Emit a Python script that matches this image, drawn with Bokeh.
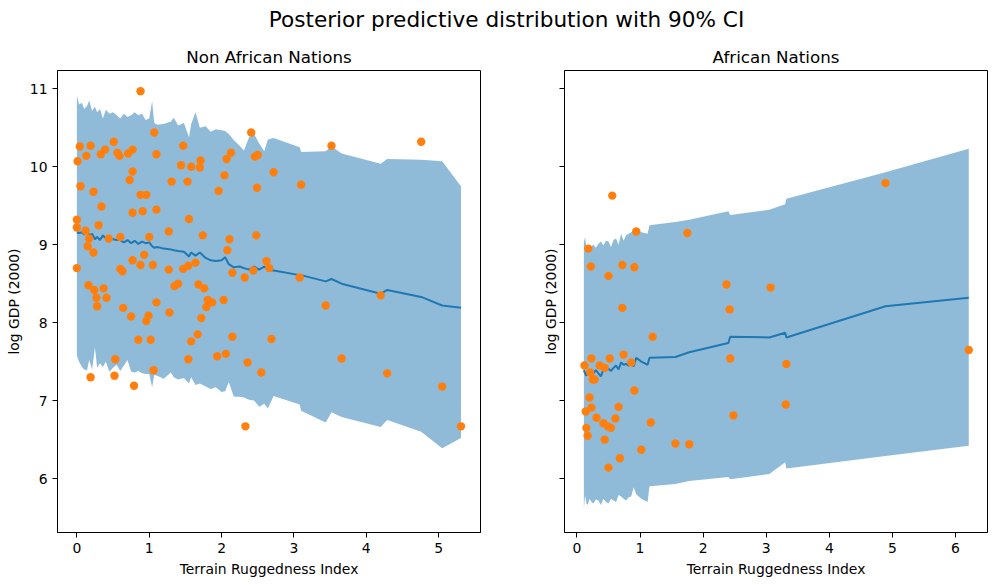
from bokeh.plotting import figure
from bokeh.models import Range1d, FixedTicker, Label
from bokeh.layouts import column, row
from bokeh.embed import file_html
from bokeh.resources import INLINE

# ---------------- data: Non African Nations ----------------
non_af_x = [0.88, 0.04, 0.19, 0.13, 0.01, 0.33, 0.39, 0.51, 0.56, 0.59, 0.71, 0.77, 1.07, 1.10,
            0.77, 0.73, 0.05, 0.23, 0.34, 0.88, 0.96, 0.77, 0.91, 1.10, 0.00, 0.00, 0.12, 0.30,
            0.17, 0.44, 0.60, 1.00, 0.15, 0.23, 1.27, 1.47, 1.44, 1.58, 1.71, 1.70, 1.31, 1.53,
            1.55, 1.74, 1.96, 2.04, 2.07, 2.13, 2.41, 2.46, 2.50, 2.72, 2.49, 2.11, 2.48, 2.08,
            0.93, 0.77, 0.88, 1.05, 0.00, 0.60, 0.63, 1.27, 1.47, 1.54, 1.64, 2.62, 2.66, 2.44,
            2.15, 2.32, 0.16, 0.24, 0.37, 0.27, 0.41, 0.28, 0.64, 0.75, 0.99, 0.96, 1.10, 1.28,
            1.35, 1.40, 1.68, 1.76, 1.81, 1.79, 1.87, 2.03, 1.72, 0.85, 1.02, 1.67, 1.58, 2.15,
            2.69, 0.53, 0.19, 0.52, 0.79, 1.06, 1.54, 1.94, 2.06, 2.36, 2.55, 2.33, 3.52, 4.76,
            3.10, 3.08, 3.44, 4.20, 3.66, 4.29, 5.05, 5.31]
non_af_y = [10.97, 10.26, 10.27, 10.14, 10.07, 10.16, 10.22, 10.32, 10.18, 10.14, 10.17, 10.22, 10.44, 10.16,
            9.94, 9.83, 9.75, 9.68, 9.49, 9.64, 9.64, 9.41, 9.43, 9.45, 9.32, 9.22, 9.18, 9.25,
            9.08, 9.08, 9.10, 9.10, 8.98, 8.90, 9.17, 10.27, 10.02, 10.00, 10.08, 9.99, 9.81, 9.81,
            9.33, 9.12, 9.69, 9.89, 10.10, 10.18, 10.44, 10.13, 10.15, 9.93, 9.73, 9.07, 9.12, 8.93,
            8.87, 8.80, 8.74, 8.74, 8.70, 8.69, 8.66, 8.68, 8.69, 8.73, 8.77, 8.79, 8.70, 8.67,
            8.64, 8.58, 8.48, 8.42, 8.44, 8.32, 8.32, 8.21, 8.19, 8.08, 8.09, 8.02, 8.26, 8.13,
            8.47, 8.50, 8.49, 8.44, 8.29, 8.20, 8.26, 8.29, 8.06, 7.78, 7.78, 7.85, 7.76, 7.82,
            7.79, 7.53, 7.30, 7.32, 7.19, 7.39, 7.53, 7.57, 7.60, 7.49, 7.36, 6.67, 10.27, 10.32,
            9.77, 8.58, 8.22, 8.35, 7.54, 7.35, 7.18, 6.67]

non_af_band_x = [0.00, 0.03, 0.07, 0.10, 0.14, 0.17, 0.21, 0.25, 0.28, 0.32, 0.36, 0.40, 0.45, 0.50,
                 0.55, 0.60, 0.65, 0.70, 0.75, 0.80, 0.85, 0.90, 0.95, 1.00, 1.04, 1.07, 1.11, 1.20,
                 1.30, 1.34, 1.40, 1.48, 1.55, 1.58, 1.64, 1.70, 1.78, 1.85, 1.92, 2.00, 2.05, 2.10,
                 2.17, 2.25, 2.31, 2.38, 2.45, 2.52, 2.59, 2.64, 2.72, 3.08, 3.10, 3.44, 3.52, 3.66,
                 4.20, 4.29, 4.76, 5.05, 5.31]
non_af_upper = [10.91, 10.80, 10.82, 10.74, 10.78, 10.85, 10.72, 10.77, 10.70, 10.74, 10.62, 10.73, 10.68, 10.70,
                10.66, 10.62, 10.68, 10.64, 10.66, 10.70, 10.66, 10.68, 10.60, 10.62, 10.84, 10.56, 10.54, 10.55,
                10.58, 10.63, 10.53, 10.56, 10.38, 10.55, 10.70, 10.50, 10.52, 10.45, 10.48, 10.47, 10.46, 10.42,
                10.34, 10.27, 10.21, 10.38, 10.42, 10.30, 10.20, 10.35, 10.37, 10.25, 10.19, 10.20, 10.26, 10.17,
                10.04, 10.10, 10.09, 10.07, 9.75]
non_af_lower = [7.58, 7.50, 7.43, 7.40, 7.39, 7.52, 7.40, 7.68, 7.42, 7.48, 7.43, 7.50, 7.37, 7.42,
                7.46, 7.38, 7.45, 7.52, 7.37, 7.36, 7.38, 7.35, 7.34, 7.34, 7.17, 7.33, 7.32, 7.28,
                7.36, 7.30, 7.27, 7.29, 7.22, 7.30, 7.20, 7.22, 7.18, 7.15, 7.17, 7.11, 7.12, 7.24,
                7.05, 7.05, 7.04, 7.01, 7.00, 6.92, 6.96, 6.90, 7.06, 6.95, 6.87, 6.72, 6.85, 6.79,
                6.66, 6.75, 6.60, 6.39, 6.52]
non_af_mean = [9.16, 9.15, 9.16, 9.13, 9.18, 9.12, 9.14, 9.07, 9.10, 9.06, 9.12, 9.08, 9.07, 9.07,
               9.06, 9.06, 9.03, 9.06, 9.02, 9.05, 9.01, 9.04, 9.02, 9.03, 8.98, 8.96, 8.97, 8.95,
               8.94, 8.93, 8.92, 8.91, 8.85, 8.90, 8.86, 8.90, 8.83, 8.80, 8.79, 8.80, 8.84, 8.75,
               8.71, 8.72, 8.70, 8.68, 8.72, 8.68, 8.72, 8.68, 8.67, 8.61, 8.61, 8.53, 8.56, 8.50,
               8.37, 8.42, 8.33, 8.22, 8.19]

# ---------------- data: African Nations ----------------
af_x = [0.56, 0.94, 1.75, 0.18, 0.22, 0.72, 0.91, 0.50, 2.37, 3.07, 0.72, 2.42, 1.20, 4.89,
        0.23, 0.52, 0.74, 0.12, 0.36, 0.44, 0.86, 0.21, 0.25, 0.28, 2.43, 0.91, 0.20, 0.14,
        0.23, 0.66, 0.31, 0.61, 0.42, 0.49, 0.54, 1.17, 2.48, 0.15, 0.17, 0.44, 1.02, 1.56,
        1.78, 0.68, 0.50, 3.32, 3.31, 6.21]
af_y = [9.63, 9.17, 9.15, 8.95, 8.72, 8.74, 8.71, 8.60, 8.49, 8.45, 8.19, 8.17, 7.82, 9.79,
        7.54, 7.54, 7.59, 7.45, 7.45, 7.42, 7.49, 7.36, 7.27, 7.27, 7.54, 7.13, 7.04, 6.86,
        6.91, 6.92, 6.78, 6.77, 6.71, 6.67, 6.65, 6.72, 6.81, 6.65, 6.55, 6.50, 6.37, 6.45,
        6.44, 6.26, 6.14, 7.47, 6.95, 7.65]

af_band_x = [0.11, 0.13, 0.15, 0.17, 0.20, 0.23, 0.26, 0.30, 0.34, 0.38, 0.42, 0.46, 0.50, 0.54,
             0.58, 0.62, 0.66, 0.70, 0.74, 0.78, 0.82, 0.86, 0.90, 0.94, 1.02, 1.12, 1.15, 1.56,
             1.78, 2.40, 2.43, 3.05, 3.30, 3.32, 4.89, 6.21]
af_upper = [9.03, 9.10, 8.96, 8.98, 8.93, 8.98, 9.00, 8.96, 9.01, 9.04, 8.99, 9.05, 9.04, 8.97,
            9.06, 9.08, 9.00, 9.14, 9.05, 9.12, 9.14, 9.16, 9.18, 9.20, 9.16, 9.14, 9.25, 9.29,
            9.32, 9.43, 9.38, 9.45, 9.52, 9.59, 9.93, 10.23]
af_lower = [5.62, 5.79, 5.68, 5.66, 5.74, 5.70, 5.68, 5.73, 5.72, 5.66, 5.74, 5.70, 5.68, 5.74,
            5.72, 5.70, 5.79, 5.77, 5.74, 5.72, 5.76, 5.77, 5.89, 5.80, 5.74, 5.70, 5.90, 5.93,
            5.97, 6.02, 5.99, 6.06, 6.21, 6.13, 6.29, 6.42]
af_mean = [7.39, 7.35, 7.32, 7.36, 7.39, 7.36, 7.35, 7.39, 7.35, 7.31, 7.40, 7.39, 7.41, 7.38,
           7.42, 7.45, 7.40, 7.49, 7.46, 7.47, 7.45, 7.47, 7.44, 7.55, 7.50, 7.46, 7.55, 7.56,
           7.62, 7.74, 7.82, 7.81, 7.87, 7.81, 8.21, 8.32]

y_ticks = [6, 7, 8, 9, 10, 11]

FONT = "DejaVu Sans"
BLUE = "#1f77b4"
ORANGE = "#ff7f0e"
Y_RANGE = (5.308, 11.235)
TOTAL_W = 995


def style(p, xticks):
    p.xgrid.visible = False
    p.ygrid.visible = False
    p.outline_line_color = "black"
    p.outline_line_width = 1
    p.title.text_font = FONT
    p.title.text_font_size = "16.7px"
    p.title.text_font_style = "normal"
    p.title.align = "center"
    p.title.text_color = "black"
    p.title.standoff = 8
    for ax in (p.xaxis[0], p.yaxis[0]):
        ax.axis_line_color = "black"
        ax.major_tick_line_color = "black"
        ax.major_tick_out = 5
        ax.major_tick_in = 0
        ax.minor_tick_out = 0
        ax.minor_tick_in = 0
        ax.major_label_text_font = FONT
        ax.major_label_text_font_size = "13.9px"
        ax.major_label_text_color = "black"
        ax.axis_label_text_font = FONT
        ax.axis_label_text_font_size = "13.9px"
        ax.axis_label_text_font_style = "normal"
        ax.axis_label_text_color = "black"
        ax.major_label_standoff = 5
        ax.axis_label_standoff = 5
    p.xaxis.ticker = FixedTicker(ticks=xticks)
    p.yaxis.ticker = FixedTicker(ticks=y_ticks)
    p.xaxis.axis_label = "Terrain Ruggedness Index"
    p.yaxis.axis_label = "log GDP (2000)"


def draw(p, bx, lo, hi, mean, px, py):
    p.varea(x=bx, y1=lo, y2=hi, fill_color=BLUE, fill_alpha=0.5)
    p.line(x=bx, y=mean, line_color=BLUE, line_width=2)
    p.scatter(x=px, y=py, size=8.4, fill_color=ORANGE, line_color=None)


# suptitle
p0 = figure(width=TOTAL_W, height=38, x_range=Range1d(0, TOTAL_W), y_range=Range1d(38, 0),
            toolbar_location=None, output_backend="svg",
            min_border_left=0, min_border_right=0, min_border_top=0, min_border_bottom=0)
p0.xaxis.visible = False
p0.yaxis.visible = False
p0.xgrid.visible = False
p0.ygrid.visible = False
p0.outline_line_color = None
p0.add_layout(Label(x=506, y=19, text="Posterior predictive distribution with 90% CI",
                    text_align="center", text_baseline="middle", text_font=FONT,
                    text_font_size="21.6px", text_color="black"))

H = 32 + 462 + 50
p1 = figure(width=490, height=H, title="Non African Nations",
            x_range=Range1d(-0.268, 5.58), y_range=Range1d(*Y_RANGE),
            toolbar_location=None, output_backend="svg",
            min_border_left=57, min_border_right=10, min_border_top=32, min_border_bottom=50)
style(p1, [0, 1, 2, 3, 4, 5])
draw(p1, non_af_band_x, non_af_lower, non_af_upper, non_af_mean, non_af_x, non_af_y)

p2 = figure(width=TOTAL_W - 490, height=H, title="African Nations",
            x_range=Range1d(-0.197, 6.507), y_range=Range1d(*Y_RANGE),
            toolbar_location=None, output_backend="svg",
            min_border_left=74, min_border_right=TOTAL_W - 490 - 74 - 423,
            min_border_top=32, min_border_bottom=50)
style(p2, [0, 1, 2, 3, 4, 5, 6])
p2.yaxis.major_label_overrides = {t: "" for t in y_ticks}
p2.yaxis.major_label_standoff = 0
p2.yaxis.axis_label_standoff = 1
draw(p2, af_band_x, af_lower, af_upper, af_mean, af_x, af_y)

layout = column(p0, row(p1, p2))
open("out.html", "w").write(file_html(layout, INLINE))
